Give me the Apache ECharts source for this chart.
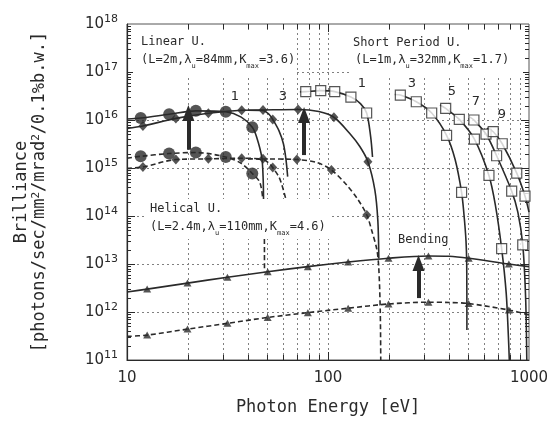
<!DOCTYPE html>
<html>
<head>
<meta charset="utf-8">
<script src="https://cdn.jsdelivr.net/npm/echarts@6/dist/echarts.min.js"></script>
<style>
html, body { margin: 0; padding: 0; background: #fff; }
#chart { width: 553px; height: 426px; }
</style>
</head>
<body>
<div id="chart"></div>
<script>
// axis ranges & ticks
const X_MIN = 10, X_MAX = 1000;
const Y_MIN = 1e11, Y_MAX = 1e18;
const xGridLines = [20, 30, 40, 50, 60, 70, 80, 90, 100, 200, 300, 400, 500, 600, 700, 800, 900];
const yDecades = [1e12, 1e13, 1e14, 1e15, 1e16, 1e17];
const yMinorMantissa = [2, 3, 4, 5, 6, 7, 8, 9];
const yMinorDecades = [1e11, 1e12, 1e13, 1e14, 1e15, 1e16, 1e17];

// Linear U. fundamental (circles)
const linearSolid = [[10, 1.05e16], [11.7, 1.1e16], [16.2, 1.32e16], [22, 1.55e16], [31, 1.48e16], [37, 1.15e16], [42, 7.1e15], [44.1, 4.5e15], [46.8, 1.7e15], [47.6, 5.6e14], [47.8, 1.8e14]];
const linearSolidMarkE = [11.7, 16.2, 22, 31, 42];
const linearDash = [[10, 1.6e15], [11.7, 1.75e15], [16.2, 2.0e15], [22, 2.1e15], [31, 1.7e15], [37, 1.25e15], [42, 7.7e14], [45.8, 5e14], [47.6, 1.8e14], [48.2, 5e13], [48.3, 7e12]];
const linearDashMarkE = [11.7, 16.2, 22, 31, 42];

// Linear U. 3rd harmonic
const linear3Solid = [[40, 1.6e16], [47.5, 1.58e16], [51, 1.3e16], [53.1, 1.03e16], [57, 6e15], [60, 3.2e15], [61.8, 1.5e15], [63, 6.6e14]];
const linear3SolidMarkE = [53.1];
const linear3Dash = [[40, 1.55e15], [47.5, 1.5e15], [51, 1.25e15], [53.1, 1.02e15], [57, 6.5e14], [59, 4.4e14], [61.8, 2.2e14]];
const linear3DashMarkE = [53.1];

// Helical U. (diamonds)
const helicalSolid = [[10, 6.7e15], [12, 7.5e15], [17.5, 1.08e16], [25.4, 1.38e16], [37.2, 1.6e16], [47.5, 1.62e16], [71, 1.65e16], [90, 1.5e16], [107, 1.14e16], [128, 5.3e15], [144, 2.8e15], [158, 1.35e15], [171, 3.5e14], [177, 8e13], [179, 1.3e13]];
const helicalSolidMarkE = [12, 17.5, 25.4, 37.2, 47.5, 71, 107, 158];
const helicalDash = [[10, 9.8e14], [12, 1.05e15], [17.5, 1.5e15], [25.4, 1.55e15], [37.2, 1.6e15], [47.5, 1.55e15], [70, 1.5e15], [88, 1.3e15], [104, 9.1e14], [124, 4.4e14], [140, 2.3e14], [156, 1.05e14], [165, 5e13], [175, 2e13], [179, 8e12], [182, 1e12], [183, 1e11]];
const helicalDashMarkE = [12, 17.5, 25.4, 37.2, 47.5, 70, 104, 156];

// Short Period U. harmonics (squares)
const sp1 = [[72.5, 3.85e16], [77.5, 3.9e16], [92, 4.1e16], [108, 3.9e16], [130, 3.0e16], [145, 2.2e16], [155.7, 1.4e16], [163, 4.5e15], [166.5, 1.7e15]];
const sp1MarkE = [77.5, 92, 108, 130, 155.7];
const sp3 = [[215, 3.4e16], [229, 3.3e16], [275, 2.4e16], [328, 1.4e16], [389, 4.8e15], [429, 1.5e15], [462, 3.1e14], [475, 1.05e14], [486, 3e13], [490, 1e13], [491, 4.2e11]];
const sp3MarkE = [229, 275, 328, 389, 462];
const sp5 = [[361, 2.05e16], [385, 1.74e16], [450, 1.03e16], [535, 4e15], [632, 7e14], [680, 1.7e14], [731, 2.1e13], [770, 2.5e12], [790, 3e11], [798, 1e11]];
const sp5MarkE = [385, 450, 535, 632, 731];
const sp7 = [[508, 1.15e16], [532, 1e16], [611, 5.1e15], [690, 1.8e15], [820, 3.3e14], [880, 1.2e14], [931, 2.5e13], [962, 2e12], [975, 1e11]];
const sp7MarkE = [532, 611, 690, 820, 931];
const sp9 = [[617, 6.7e15], [664, 5.7e15], [736, 3.2e15], [869, 7.8e14], [955, 2.6e14], [1000, 1.2e14]];
const sp9MarkE = [664, 736, 869, 955];

// Bending magnet (triangles)
const bendSolid = [[10, 2.6e12], [12.6, 3.0e12], [20, 4e12], [31.6, 5.3e12], [50.1, 6.9e12], [79.4, 8.8e12], [126, 1.1e13], [200, 1.32e13], [316, 1.47e13], [400, 1.45e13], [501, 1.32e13], [794, 1e13], [1000, 8.8e12]];
const bendDash = [[10, 3.1e11], [12.6, 3.3e11], [20, 4.4e11], [31.6, 5.8e11], [50.1, 7.7e11], [79.4, 9.7e11], [126, 1.2e12], [200, 1.47e12], [316, 1.6e12], [400, 1.58e12], [501, 1.5e12], [794, 1.1e12], [1000, 8.7e11]];
const bendMarkE = [12.6, 20, 31.6, 50.1, 79.4, 126, 200, 316, 501, 794];

// upgrade arrows (from, to)
const arrows = [
    [[20.2, 2.4e15], [20.2, 1.4e16]],
    [[76, 1.86e15], [76, 1.27e16]],
    [[282, 1.95e12], [282, 1.05e13]]
];

const INK = '#2a2a2a';
const MONO = '"DejaVu Sans Mono", monospace';
const SANS = '"DejaVu Sans", sans-serif';

function curve(data, dashed) {
    return {
        type: 'line', data: data, symbol: 'none', showSymbol: false, smooth: 0.3,
        silent: true, z: 3,
        lineStyle: { color: INK, width: 1.6, type: dashed ? [5, 3] : 'solid' }
    };
}

function marks(line, es, symbol, size, hollow) {
    return {
        type: 'scatter', data: line.filter(p => es.indexOf(p[0]) >= 0),
        symbol: symbol, symbolSize: size, silent: true, z: 4,
        itemStyle: hollow ? { color: '#fff', borderColor: INK, borderWidth: 1.2 } : { color: INK }
    };
}

function px(v) { return Math.round(v) + 0.5; }

const gridSeries = [
    {
        type: 'custom', silent: true, z: 1, encode: { x: 0, y: 1 },
        data: xGridLines.map(v => [v, Y_MIN]),
        renderItem: function (params, api) {
            const v = api.value(0);
            const lo = api.coord([v, Y_MIN]), hi = api.coord([v, Y_MAX]);
            const t = v === 100 ? 8 : 5, x = px(lo[0]);
            return { type: 'group', children: [
                { type: 'line', shape: { x1: x, y1: lo[1], x2: x, y2: hi[1] }, style: { stroke: '#808080', lineWidth: 1, lineDash: [2, 3] } },
                { type: 'line', shape: { x1: x, y1: lo[1], x2: x, y2: lo[1] - t }, style: { stroke: INK, lineWidth: 1 } },
                { type: 'line', shape: { x1: x, y1: hi[1], x2: x, y2: hi[1] + t }, style: { stroke: INK, lineWidth: 1 } }
            ] };
        }
    },
    {
        type: 'custom', silent: true, z: 1, encode: { x: 0, y: 1 },
        data: yDecades.map(v => [X_MIN, v]),
        renderItem: function (params, api) {
            const v = api.value(1);
            const l = api.coord([X_MIN, v]), r = api.coord([X_MAX, v]);
            const y = px(l[1]);
            return { type: 'group', children: [
                { type: 'line', shape: { x1: l[0], y1: y, x2: r[0], y2: y }, style: { stroke: '#808080', lineWidth: 1, lineDash: [2, 3] } },
                { type: 'line', shape: { x1: l[0], y1: y, x2: l[0] + 8, y2: y }, style: { stroke: INK, lineWidth: 1 } },
                { type: 'line', shape: { x1: r[0], y1: y, x2: r[0] - 8, y2: y }, style: { stroke: INK, lineWidth: 1 } }
            ] };
        }
    },
    {
        type: 'custom', silent: true, z: 1, encode: { x: 0, y: 1 },
        data: [].concat.apply([], yMinorDecades.map(d => yMinorMantissa.map(m => [X_MIN, m * d]))),
        renderItem: function (params, api) {
            const v = api.value(1);
            const l = api.coord([X_MIN, v]), r = api.coord([X_MAX, v]);
            const y = px(l[1]);
            return { type: 'group', children: [
                { type: 'line', shape: { x1: l[0], y1: y, x2: l[0] + 4, y2: y }, style: { stroke: INK, lineWidth: 1 } },
                { type: 'line', shape: { x1: r[0], y1: y, x2: r[0] - 4, y2: y }, style: { stroke: INK, lineWidth: 1 } }
            ] };
        }
    }
];

const arrowSeries = {
    type: 'line', data: [], silent: true, z: 5,
    markLine: {
        silent: true, animation: false,
        symbol: ['none', 'triangle'], symbolSize: [12, 16],
        lineStyle: { color: INK, width: 4, type: 'solid' },
        label: { show: false },
        data: arrows.map(a => [{ coord: a[0] }, { coord: a[1] }])
    }
};

const subRich = {
    u: { fontSize: 7, fontFamily: MONO, fill: INK, lineHeight: 7, padding: [13, 0, 0, 0] }
};

function label(x, y, text) {
    return {
        type: 'text', x: x, y: y, z: 51,
        style: { text: text, font: '12px ' + MONO, fill: INK, verticalAlign: 'middle', align: 'left', rich: subRich }
    };
}

function box(x, y, w, h) {
    return { type: 'rect', z: 50, shape: { x: x, y: y, width: w, height: h }, style: { fill: '#fff' } };
}

function num(x, y, t) {
    return { type: 'text', x: x, y: y, z: 51, style: { text: t, font: '13px ' + SANS, fill: INK, align: 'center', verticalAlign: 'middle' } };
}

const chart = echarts.init(document.getElementById('chart'), null, { renderer: 'canvas' });

chart.setOption({
    animation: false,
    backgroundColor: '#fff',
    grid: { left: 127, right: 24, top: 24, bottom: 66, show: true, borderColor: '#555', borderWidth: 1 },
    xAxis: {
        type: 'log', logBase: 10, min: X_MIN, max: X_MAX, splitNumber: 2,
        name: 'Photon Energy [eV]', nameLocation: 'middle', nameGap: 39,
        nameTextStyle: { fontFamily: MONO, fontSize: 17, color: INK },
        axisLine: { show: true, lineStyle: { color: INK, width: 1.2 } },
        axisTick: { show: false }, splitLine: { show: false },
        axisLabel: { fontFamily: SANS, fontSize: 15, color: INK, margin: 11, formatter: v => String(v) }
    },
    yAxis: {
        type: 'log', logBase: 10, min: Y_MIN, max: Y_MAX, splitNumber: 7,
        name: '{a|Brilliance}\n{a|[photons/sec/mm}{s|2}{a|/mrad}{s|2}{a|/0.1%b.w.]}',
        nameLocation: 'middle', nameGap: 78,
        nameTextStyle: {
            color: INK,
            rich: {
                a: { fontFamily: MONO, fontSize: 17, lineHeight: 18, color: INK },
                s: { fontFamily: MONO, fontSize: 11, lineHeight: 11, padding: [0, 0, 8, 0], color: INK }
            }
        },
        axisLine: { show: true, lineStyle: { color: INK, width: 1.2 } },
        axisTick: { show: false }, splitLine: { show: false },
        axisLabel: {
            margin: 9,
            formatter: v => '{b|10}{s|' + Math.round(Math.log10(v)) + '}',
            rich: {
                b: { fontFamily: SANS, fontSize: 15, color: INK, lineHeight: 17 },
                s: { fontFamily: SANS, fontSize: 11, color: INK, lineHeight: 11, padding: [0, 0, 9, 0] }
            }
        }
    },
    series: gridSeries.concat([
        curve(bendSolid, false), curve(bendDash, true),
        curve(helicalSolid, false), curve(helicalDash, true),
        curve(linear3Solid, false), curve(linear3Dash, true),
        curve(linearSolid, false), curve(linearDash, true),
        curve(sp1, false), curve(sp3, false), curve(sp5, false), curve(sp7, false), curve(sp9, false),
        marks(bendSolid, bendMarkE, 'triangle', [8, 7]),
        marks(bendDash, bendMarkE, 'triangle', [8, 7]),
        marks(helicalSolid, helicalSolidMarkE, 'diamond', [9, 10]),
        marks(helicalDash, helicalDashMarkE, 'diamond', [9, 10]),
        marks(linear3Solid, linear3SolidMarkE, 'diamond', [9, 10]),
        marks(linear3Dash, linear3DashMarkE, 'diamond', [9, 10]),
        marks(linearSolid, linearSolidMarkE, 'circle', 12),
        marks(linearDash, linearDashMarkE, 'circle', 12),
        marks(sp1, sp1MarkE, 'rect', 10, true),
        marks(sp3, sp3MarkE, 'rect', 10, true),
        marks(sp5, sp5MarkE, 'rect', 10, true),
        marks(sp7, sp7MarkE, 'rect', 10, true),
        marks(sp9, sp9MarkE, 'rect', 10, true),
        arrowSeries
    ]),
    graphic: [
        box(133, 30, 164, 45),
        box(350, 30, 173, 47),
        box(145, 199, 185, 40),
        box(393, 232, 60, 16),
        label(141, 42, 'Linear U.'),
        label(141, 60, '(L=2m,λ{u|u}=84mm,K{u|max}=3.6)'),
        label(353, 43, 'Short Period U.'),
        label(355, 60, '(L=1m,λ{u|u}=32mm,K{u|max}=1.7)'),
        label(150, 209, 'Helical U.'),
        label(150, 227, '(L=2.4m,λ{u|u}=110mm,K{u|max}=4.6)'),
        label(398, 240, 'Bending'),
        num(235, 97, '1'), num(283, 97, '3'),
        num(362, 84, '1'), num(412, 84, '3'), num(452, 92, '5'), num(476, 102, '7'), num(502, 115, '9')
    ]
});
</script>
</body>
</html>
